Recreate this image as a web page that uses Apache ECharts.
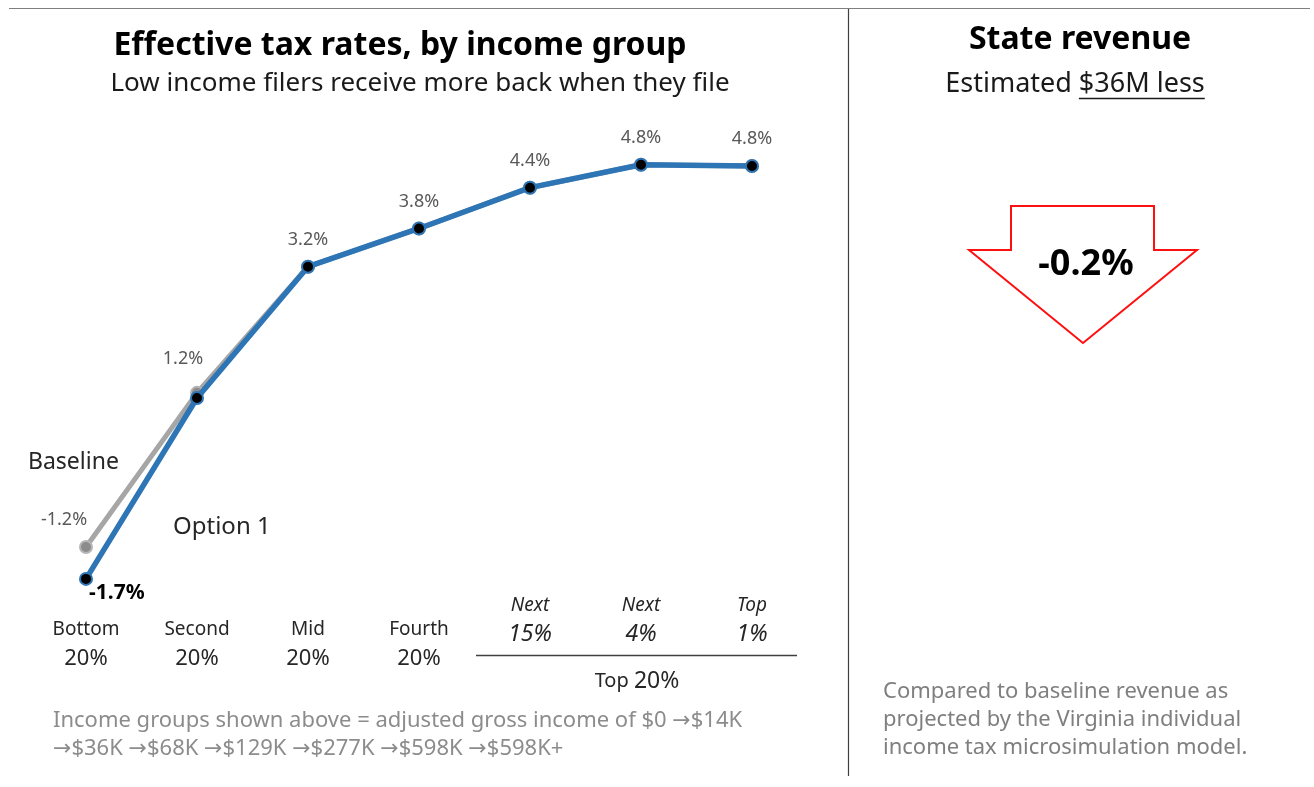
<!DOCTYPE html>
<html>
<head>
<meta charset="utf-8">
<script src="https://cdn.jsdelivr.net/npm/echarts@6/dist/echarts.min.js"></script>
<style>
html,body{margin:0;padding:0;background:#fff;}
#chart{width:1314px;height:787px;}
</style>
</head>
<body>
<div id="chart"></div>
<script>
// ---- Data ----
var groupNames = ['Bottom', 'Second', 'Mid', 'Fourth', 'Next', 'Next', 'Top'];
var groupShares = ['20%', '20%', '20%', '20%', '15%', '4%', '1%'];
var italicGroups = [false, false, false, false, true, true, true];
var baselineRates = [-1.2, 1.22, 3.2, 3.8, 4.44, 4.8, 4.78];
var option1Rates = [-1.7, 1.14, 3.2, 3.8, 4.44, 4.8, 4.78];
var baselineLabelShown = [true, true, false, false, false, false, false];
var option1LabelShown = [true, false, true, true, true, true, true];
var incomeBreaks = ['$0', '$14K', '$36K', '$68K', '$129K', '$277K', '$598K', '$598K+'];
var revenueChange = '-0.2%';
var revenueDelta = '$36M less';
var topGroupLabel = ['Top', '20%'];

var FONT = '"Noto Sans", "Open Sans", sans-serif';
var BLUE = '#2E75B6';
var GRAY = '#A6A6A6';

function pct(v) { return v.toFixed(1) + '%'; }

var categories = groupNames.map(function (n, i) { return n + '|' + groupShares[i]; });

function measure(text, font) {
  var c = document.createElement('canvas').getContext('2d');
  c.font = font;
  return c.measureText(text).width;
}

// income note built from the breaks, arrows in a font with a full-size arrow glyph
var noteLine1 = '{t|Income groups shown above = adjusted gross income of ' + incomeBreaks[0] + ' }{r|\u2192}{t|' + incomeBreaks[1] + '}';
var noteLine2 = incomeBreaks.slice(2).map(function (b) { return '{r|\u2192}{t|' + b + '}'; }).join('{t| }');

var chart = echarts.init(document.getElementById('chart'), null, { renderer: 'canvas' });

var estWordWidth = measure('Estimated ', '27px ' + FONT);
var deltaWidth = measure(revenueDelta, '27px ' + FONT);
var estTotal = estWordWidth + deltaWidth;
var estLeft = 1075 - estTotal / 2;

var option = {
  backgroundColor: '#ffffff',
  animation: false,
  grid: { left: 86, right: 562, top: 152, bottom: 189, containLabel: false },
  xAxis: [{
    type: 'category',
    data: categories,
    boundaryGap: false,
    axisLine: { show: false },
    axisTick: { show: false },
    splitLine: { show: false },
    axisLabel: {
      interval: 0,
      margin: 17,
      formatter: function (v, i) {
        if (italicGroups[i]) return '';
        var p = v.split('|');
        return '{a|' + p[0] + '}\n{b|' + p[1] + '}';
      },
      rich: {
        a: { fontFamily: FONT, fontSize: 19, color: '#262626', lineHeight: 29, align: 'center' },
        b: { fontFamily: FONT, fontSize: 22, color: '#262626', lineHeight: 29, align: 'center' }
      }
    }
  }, {
    type: 'category',
    data: categories,
    boundaryGap: false,
    position: 'bottom',
    offset: -23,
    axisLine: { show: false },
    axisTick: { show: false },
    splitLine: { show: false },
    axisLabel: {
      interval: 0,
      margin: 17,
      formatter: function (v, i) {
        if (!italicGroups[i]) return '';
        var p = v.split('|');
        return '{a|' + p[0] + '}\n{b|' + p[1] + '}';
      },
      rich: {
        a: { fontFamily: FONT, fontSize: 19, fontStyle: 'italic', color: '#262626', lineHeight: 28, align: 'center' },
        b: { fontFamily: FONT, fontSize: 23, fontStyle: 'italic', color: '#262626', lineHeight: 28, align: 'center' }
      }
    }
  }],
  yAxis: {
    type: 'value',
    min: -2,
    max: 5,
    show: false,
    splitLine: { show: false }
  },
  series: [{
    name: 'Baseline',
    type: 'line',
    z: 2,
    data: baselineRates.map(function (v, i) {
      if (i === 0) return { value: v, label: { offset: [-22, -6] } };
      if (i === 1) return { value: v, label: { offset: [-14, -13] } };
      return v;
    }),
    symbol: 'circle',
    symbolSize: 12,
    lineStyle: { color: GRAY, width: 5 },
    itemStyle: { color: '#8C8C8C', borderColor: '#B5B5B5', borderWidth: 2 },
    label: {
      show: true,
      position: 'top',
      distance: 5,
      fontFamily: FONT,
      fontSize: 18,
      color: '#595959',
      formatter: function (p) { return baselineLabelShown[p.dataIndex] ? pct(p.value) : ''; }
    }
  }, {
    name: 'Option 1',
    type: 'line',
    z: 3,
    data: option1Rates.map(function (v, i) {
      if (i === 0) {
        return {
          value: v,
          label: {
            position: 'right', distance: 0, offset: [-4, 14],
            fontSize: 21, fontWeight: 'bold', color: '#000000'
          }
        };
      }
      return v;
    }),
    symbol: 'circle',
    symbolSize: 12,
    lineStyle: { color: BLUE, width: 5.5 },
    itemStyle: { color: '#000000', borderColor: BLUE, borderWidth: 2 },
    label: {
      show: true,
      position: 'top',
      distance: 11,
      fontFamily: FONT,
      fontSize: 18,
      color: '#595959',
      formatter: function (p) { return option1LabelShown[p.dataIndex] ? pct(p.value) : ''; }
    }
  }],
  graphic: [
    // frame lines
    { type: 'line', shape: { x1: 9, y1: 8.5, x2: 1310, y2: 8.5 }, style: { stroke: '#7F7F7F', lineWidth: 1.2 } },
    { type: 'line', shape: { x1: 848.5, y1: 9, x2: 848.5, y2: 776 }, style: { stroke: '#404040', lineWidth: 1.2 } },
    // left titles
    { type: 'text', x: 400, y: 46, style: { text: 'Effective tax rates, by income group', font: 'bold 32px ' + FONT, fill: '#000', textAlign: 'center', textVerticalAlign: 'middle' } },
    { type: 'text', x: 420, y: 84, style: { text: 'Low income filers receive more back when they file', font: '26px ' + FONT, fill: '#1a1a1a', textAlign: 'center', textVerticalAlign: 'middle' } },
    // right titles
    { type: 'text', x: 1080, y: 40, style: { text: 'State revenue', font: 'bold 32px ' + FONT, fill: '#000', textAlign: 'center', textVerticalAlign: 'middle' } },
    { type: 'text', x: estLeft, y: 84, style: { text: 'Estimated ', font: '27px ' + FONT, fill: '#1a1a1a', textAlign: 'left', textVerticalAlign: 'middle' } },
    { type: 'text', x: estLeft + estWordWidth, y: 84, style: { text: revenueDelta, font: '27px ' + FONT, fill: '#1a1a1a', textAlign: 'left', textVerticalAlign: 'middle' } },
    { type: 'line', shape: { x1: estLeft + estWordWidth, y1: 98.5, x2: estLeft + estTotal, y2: 98.5 }, style: { stroke: '#1a1a1a', lineWidth: 1.5 } },
    // arrow
    { type: 'polygon', shape: { points: [[1011, 206], [1154, 206], [1154, 250], [1197, 250], [1083, 343], [969, 250], [1011, 250]] }, style: { fill: '#ffffff', stroke: '#FF1010', lineWidth: 2 } },
    { type: 'text', x: 1086, y: 265, style: { text: revenueChange, font: 'bold 36px ' + FONT, fill: '#000', textAlign: 'center', textVerticalAlign: 'middle' } },
    // series names
    { type: 'text', x: 28, y: 462, style: { text: 'Baseline', font: '23px ' + FONT, fill: '#262626', textAlign: 'left', textVerticalAlign: 'middle' } },
    { type: 'text', x: 173, y: 527, style: { text: 'Option 1', font: '24px ' + FONT, fill: '#262626', textAlign: 'left', textVerticalAlign: 'middle' } },
    // top 20% bracket
    { type: 'line', shape: { x1: 476, y1: 655.5, x2: 797, y2: 655.5 }, style: { stroke: '#404040', lineWidth: 1.3 } },
    { type: 'text', x: 637, y: 681, style: { text: '{a|' + topGroupLabel[0] + ' }{b|' + topGroupLabel[1] + '}', rich: { a: { font: '20px ' + FONT, fill: '#262626' }, b: { font: '23px ' + FONT, fill: '#262626' } }, textAlign: 'center', textVerticalAlign: 'middle' } },
    // notes
    { type: 'text', x: 53, y: 735, style: {
        text: noteLine1 + '\n' + noteLine2,
        rich: {
          t: { font: '22px ' + FONT, fill: '#8C8C8C', lineHeight: 28 },
          r: { font: '22px "DejaVu Sans", sans-serif', fill: '#8C8C8C', lineHeight: 28 }
        },
        textAlign: 'left', textVerticalAlign: 'middle' } },
    { type: 'text', x: 883, y: 720, style: { text: 'Compared to baseline revenue as\nprojected by the Virginia individual\nincome tax microsimulation model.', font: '22px ' + FONT, fill: '#7F7F7F', lineHeight: 28, textAlign: 'left', textVerticalAlign: 'middle' } }
  ]
};

chart.setOption(option);
</script>
</body>
</html>
